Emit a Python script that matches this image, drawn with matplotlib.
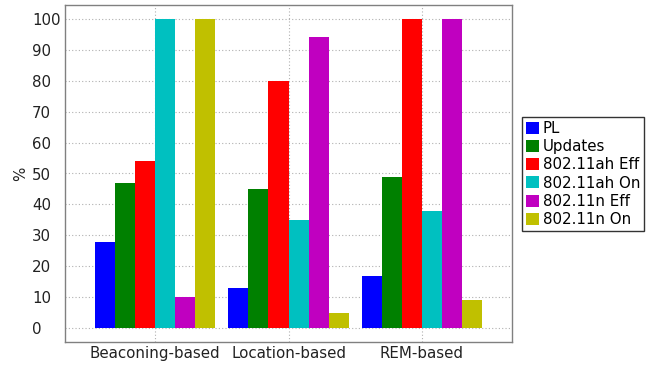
import numpy as np
import matplotlib
matplotlib.use('Agg')
import matplotlib.pyplot as plt

groups = ['Beaconing-based', 'Location-based', 'REM-based']
series = ['PL', 'Updates', '802.11ah Eff', '802.11ah On', '802.11n Eff', '802.11n On']
pl = [28, 13, 17]
updates = [47, 45, 49]
ah_eff = [54, 80, 100]
ah_on = [100, 35, 38]
n_eff = [10, 94, 100]
n_on = [100, 5, 9]
colors = ['#0000ff', '#008000', '#ff0000', '#00c0c0', '#c000c0', '#c0c000']

plt.rcParams['font.family'] = ['DejaVu Sans']
fs = 10.8
fig = plt.figure(figsize=(6.52, 3.67), dpi=100)
ax = fig.add_axes([65 / 652, 25 / 367, 447 / 652, 337 / 367])

x = np.arange(len(groups))
w = 0.15
for i, (vals, name) in enumerate(zip([pl, updates, ah_eff, ah_on, n_eff, n_on], series)):
    ax.bar(x + (i - 2.5) * w, vals, w, color=colors[i], label=name, zorder=3)

ax.set_xlim(-0.675, 2.675)
ax.set_ylim(-4.5, 104.5)
ax.set_xticks(x)
ax.set_xticklabels(groups, fontsize=fs, color='#222222')
ax.set_yticks(range(0, 101, 10))
ax.tick_params(axis='y', labelsize=fs, colors='#222222', length=0, pad=23.8)
for t in ax.get_yticklabels():
    t.set_horizontalalignment('left')
ax.tick_params(axis='x', length=0, pad=3)
ax.set_ylabel('%', fontsize=fs, color='#222222')
ax.yaxis.set_label_coords(-0.083, 0.5)
ax.grid(True, linestyle=(0, (1, 2)), color='#b0b0b0', linewidth=0.8, zorder=0)
for s in ax.spines.values():
    s.set_color('#808080')
    s.set_linewidth(1)

leg = ax.legend(loc='upper left', bbox_to_anchor=((522 - 65) / 447, (342 - 117) / 337), fontsize=fs,
                frameon=True, fancybox=False, edgecolor='black', handlelength=0.85, handleheight=0.85,
                handletextpad=0.3, labelspacing=0.22, borderpad=0.25, borderaxespad=0)
leg.get_frame().set_linewidth(1)

fig.savefig('out.png', dpi=100)
